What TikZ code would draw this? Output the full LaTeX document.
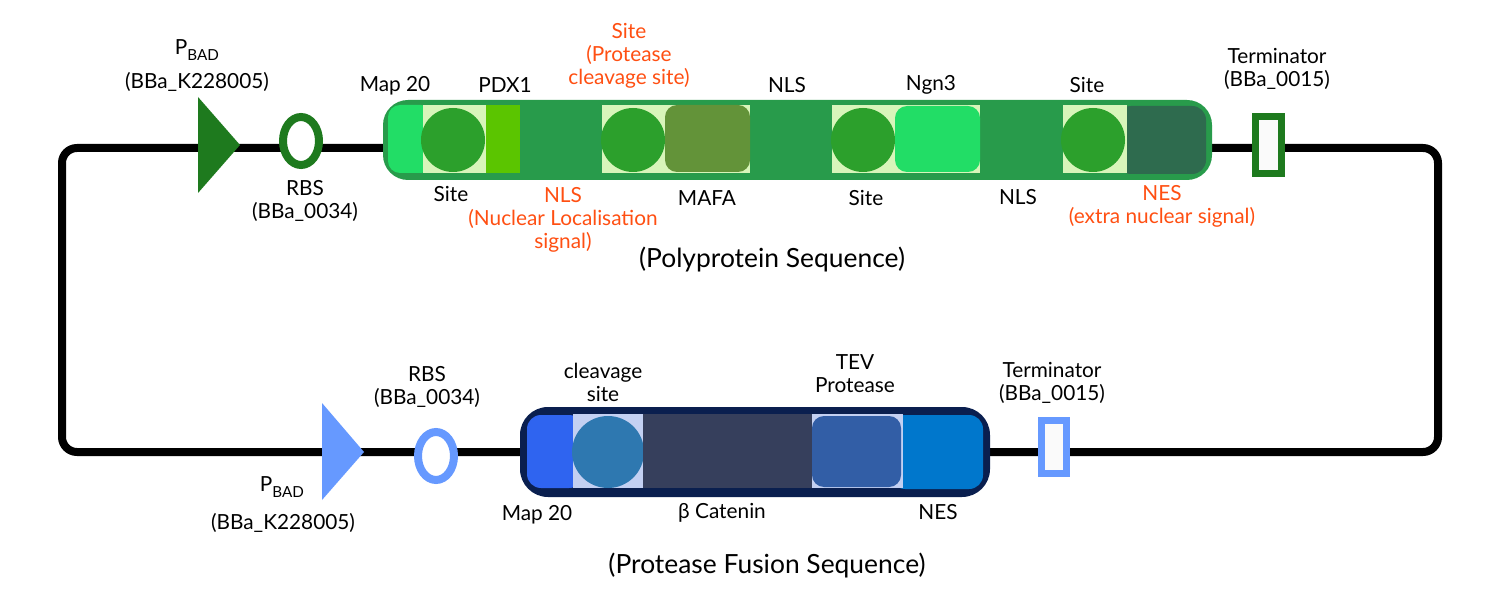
\documentclass[tikz,border=0pt]{standalone}
\usepackage{fontspec}
\setmainfont{Lato}
\usepackage{tikz}
\usetikzlibrary{positioning,calc,shapes}

\definecolor{darkgreen}{HTML}{1E7A1E}
\definecolor{boxgreen}{HTML}{289B4B}
\definecolor{lightgreen}{HTML}{22DD66}
\definecolor{palegreen}{HTML}{D8F5BA}
\definecolor{sitegreen}{HTML}{2CA02C}
\definecolor{pdxgreen}{HTML}{5BC500}
\definecolor{mafagreen}{HTML}{639339}
\definecolor{nesgreen}{HTML}{2E6B4E}
\definecolor{lightblue}{HTML}{6699FF}
\definecolor{navy}{HTML}{0A1F4F}
\definecolor{mapblue}{HTML}{2F64F0}
\definecolor{paleblue}{HTML}{C3D0F2}
\definecolor{siteblue}{HTML}{2E78B0}
\definecolor{cateninblue}{HTML}{363F5C}
\definecolor{tevblue}{HTML}{325EA6}
\definecolor{nesblue}{HTML}{0077CC}
\definecolor{note}{HTML}{FF4F12}

\newcommand{\pbad}{P\raisebox{-.55ex}{\fontsize{7.6}{8}\selectfont BAD}}

\begin{document}
\begin{tikzpicture}[
    x=0.5pt, y=-0.5pt,
    every node/.style={font=\fontsize{10.4}{11.5}\selectfont, align=center, inner sep=0pt},
    title/.style={font=\fontsize{13.2}{15}\selectfont},
    backbone/.style={line width=4pt, rounded corners=7.5pt},
    part/.style={rectangle, minimum height=34pt},
    site/.style={circle, minimum size=32pt},
    rbs/.style={ellipse, draw, line width=4pt, fill=white, minimum width=18pt, minimum height=24pt},
    term/.style={rectangle, draw, fill=black!2, line width=3.6pt},
    warn/.style={text=note}
]
    \useasboundingbox (0,0) rectangle (1499,604);

    % backbone loop
    \coordinate (tl) at (62,148);
    \coordinate (tr) at (1438,148);
    \coordinate (br) at (1438,452);
    \coordinate (bl) at (62,452);
    \draw[backbone] (tl) -- (tr) -- (br) -- (bl) -- cycle;

    % top construct
    \fill[darkgreen] (198,97) -- (240,145) -- (198,193) -- cycle;
    \node[rbs, draw=darkgreen] (rbsA) at (301,141) {};
    \node[rectangle, fill=boxgreen, rounded corners=12.5pt, minimum width=414.5pt, minimum height=40pt] (poly) at (797.5,140) {};
    \node[part, fill=lightgreen, rounded corners=6pt, minimum width=22.5pt] (mapA) at (410.5,139) {};
    \node[part, fill=nesgreen, rounded corners=7pt, minimum width=44.5pt] (nesA) at (1161.5,140) {};
    \node[part, fill=palegreen, minimum width=31.5pt] (sqA) at (454.5,139) {};
    \node[part, fill=palegreen, minimum width=74pt] (sqB) at (676,139) {};
    \node[part, fill=palegreen, minimum width=74pt] (sqC) at (906,139) {};
    \node[part, fill=palegreen, minimum width=32pt] (sqD) at (1095,139) {};
    \node[site, fill=sitegreen] (siteA) at (453,140) {};
    \node[site, fill=sitegreen] (siteB) at (633,140) {};
    \node[site, fill=sitegreen] (siteC) at (863,140) {};
    \node[site, fill=sitegreen] (siteD) at (1093,140) {};
    \node[part, fill=pdxgreen, minimum width=17pt] (pdx) at (503,139) {};
    \node[part, fill=mafagreen, rounded corners=6pt, minimum width=42.5pt, minimum height=33.5pt] (mafa) at (707.5,138.5) {};
    \node[part, fill=lightgreen, rounded corners=6pt, minimum width=42.5pt, minimum height=33pt] (ngn) at (937.5,139) {};
    \node[term, draw=darkgreen, minimum width=13pt, minimum height=28.5pt] (termA) at (1268.5,145) {};

    % top labels
    \node (pA) at (197,50) {\pbad};
    \node (pAid) at (197,82) {(BBa\_K228005)};
    \node (rbsAlbl) at (305,201) {RBS\\(BBa\_0034)};
    \node (mapAlbl) at (395,86) {Map 20};
    \node (pdxlbl) at (505,85) {PDX1};
    \node[warn] (cutlbl) at (629,56) {Site\\(Protease\\cleavage site)};
    \node (nlsAlbl) at (787,85) {NLS};
    \node (ngnlbl) at (931,85) {Ngn3};
    \node (siteDlbl) at (1087,85) {Site};
    \node (termAlbl) at (1277,69) {Terminator\\(BBa\_0015)};
    \node (siteAlbl) at (451,194) {Site};
    \node[warn] (nlslbl) at (563,219.5) {NLS\\(Nuclear Localisation\\signal)};
    \node (mafalbl) at (707,198) {MAFA};
    \node (siteClbl) at (866,198) {Site};
    \node (nlsBlbl) at (1018,197) {NLS};
    \node[warn] (neslbl) at (1162,206) {NES\\(extra nuclear signal)};
    \node[title] (polylbl) at (772,260) {(Polyprotein Sequence)};

    % bottom construct
    \fill[lightblue] (322,403) -- (364,452) -- (322,500) -- cycle;
    \node[rbs, draw=lightblue] (rbsB) at (436,456) {};
    \node[rectangle, fill=navy, rounded corners=14pt, minimum width=235pt, minimum height=45pt] (fusion) at (755,452) {};
    \node[part, fill=mapblue, rounded corners=7pt, minimum width=28pt, minimum height=36.5pt] (mapB) at (555,451.5) {};
    \node[part, fill=nesblue, rounded corners=7pt, minimum width=46pt, minimum height=37pt] (nesB) at (937,452) {};
    \node[part, fill=paleblue, minimum width=35pt, minimum height=37pt] (sqE) at (608,451) {};
    \node[part, fill=paleblue, minimum width=45.5pt, minimum height=37pt] (sqF) at (857.5,451) {};
    \node[site, fill=siteblue, minimum size=36pt] (siteE) at (608,452) {};
    \node[part, fill=cateninblue, minimum width=84.5pt, minimum height=37pt] (catenin) at (727.5,451) {};
    \node[part, fill=tevblue, rounded corners=6pt, minimum width=44.5pt, minimum height=35.5pt] (tev) at (856.5,451.5) {};
    \node[term, draw=lightblue, line width=3.3pt, minimum width=12.75pt, minimum height=26.75pt] (termB) at (1054,447) {};

    % bottom labels
    \node (rbsBlbl) at (427,387) {RBS\\(BBa\_0034)};
    \node (pB) at (282,487) {\pbad};
    \node (pBid) at (283,523) {(BBa\_K228005)};
    \node (cutBlbl) at (603,382) {cleavage\\site};
    \node (tevlbl) at (855,374) {TEV\\Protease};
    \node (termBlbl) at (1052,383) {Terminator\\(BBa\_0015)};
    \node (mapBlbl) at (537,515) {Map 20};
    \node (cateninlbl) at (722,513) {β Catenin};
    \node (nesBlbl) at (938,512) {NES};
    \node[title] (fusionlbl) at (767,566) {(Protease Fusion Sequence)};
\end{tikzpicture}
\end{document}
